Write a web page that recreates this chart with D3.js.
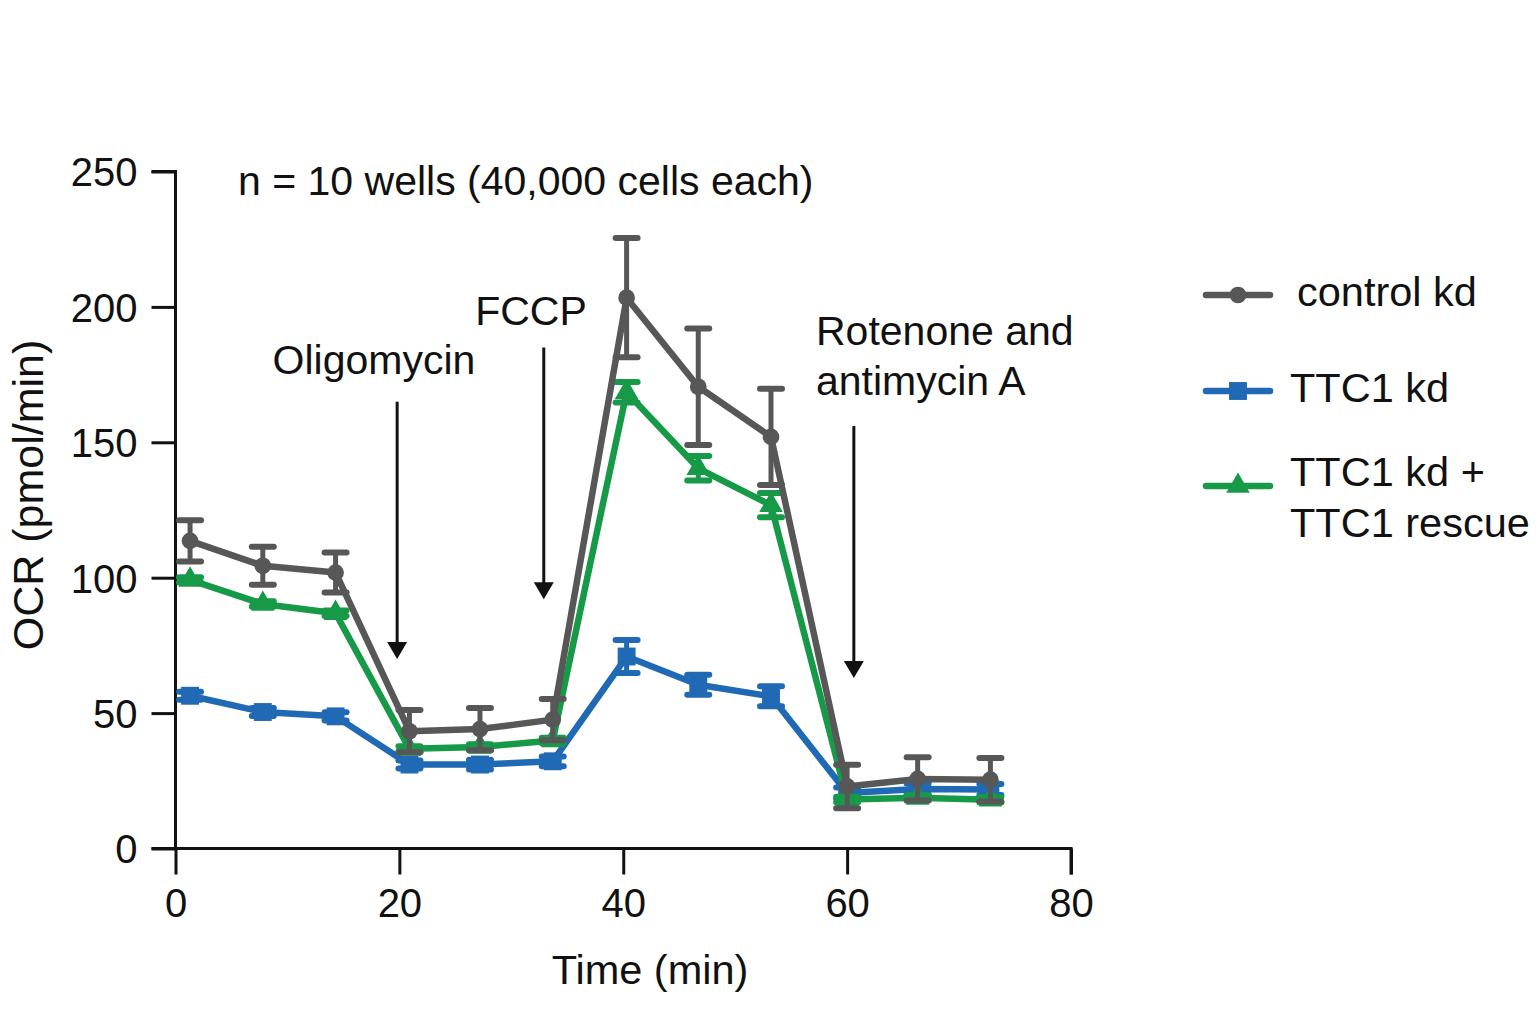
<!DOCTYPE html>
<html>
<head>
<meta charset="utf-8">
<script src="https://cdn.jsdelivr.net/npm/d3@7"></script>
<style>
  body { margin: 0; background: #fff; }
  svg text { font-family: "Liberation Sans", Arial, Helvetica, sans-serif; fill: #111; }
</style>
</head>
<body>
<svg id="chart" width="1538" height="1015"></svg>
<script>
// measurement times (min)
var times = [1.3, 7.8, 14.3, 20.9, 27.2, 33.7, 40.3, 46.7, 53.2, 60.0, 66.3, 72.8];

var controlKd  = [113.6, 104.4, 101.9, 43.3, 44.1, 47.6, 203.4, 170.5, 152.0, 22.9, 25.7, 25.4];
var controlErr = [7.6, 7.0, 7.4, 7.8, 7.8, 7.6, 22.0, 21.5, 17.8, 8.0, 8.0, 8.0];

var ttc1Kd  = [56.4, 50.4, 48.8, 31.0, 31.0, 32.2, 70.9, 60.5, 56.2, 20.5, 22.0, 21.8];
var ttc1Err = [1.5, 1.5, 1.5, 1.5, 1.8, 1.8, 6.1, 3.7, 3.7, 2.0, 2.0, 2.0];

var rescue    = [99.2, 90.3, 86.9, 36.8, 37.5, 39.9, 168.5, 140.4, 126.8, 18.1, 18.7, 18.0];
var rescueErr = [1.0, 1.0, 1.0, 1.0, 1.0, 1.0, 3.8, 4.5, 4.5, 1.0, 1.0, 1.0];

var xTicks = [0, 20, 40, 60, 80];
var yTicks = [0, 50, 100, 150, 200, 250];

var injections = [
  {name: ["Oligomycin"], t: 19.8, top: 165, bottom: 70},
  {name: ["FCCP"], t: 32.9, top: 185, bottom: 92},
  {name: ["Rotenone and", "antimycin A"], t: 60.6, top: 156, bottom: 63}
];

var series = [
  {name: "TTC1 kd", vals: ttc1Kd, err: ttc1Err, color: "#1f69b5", shape: "square"},
  {name: "TTC1 kd + TTC1 rescue", vals: rescue, err: rescueErr, color: "#179a48", shape: "triangle"},
  {name: "control kd", vals: controlKd, err: controlErr, color: "#575757", shape: "circle"}
];

var svg = d3.select("#chart");

var x = d3.scaleLinear().domain([0, 80]).range([175.5, 1071]);
var y = d3.scaleLinear().domain([0, 250]).range([848.5, 171.5]);

// axes
var xAxis = svg.append("g").attr("transform", "translate(0,848.5)")
  .call(d3.axisBottom(x).tickValues(xTicks).tickSize(26).tickPadding(12));
var yAxis = svg.append("g").attr("transform", "translate(175.5,0)")
  .call(d3.axisLeft(y).tickValues(yTicks).tickSize(24).tickPadding(14));

[xAxis, yAxis].forEach(function(a) {
  a.select(".domain").attr("stroke", "#111").attr("stroke-width", 3);
  a.selectAll(".tick line").attr("stroke", "#111").attr("stroke-width", 3);
  a.selectAll(".tick text").attr("font-size", 40).attr("fill", "#111");
});
// x axis extends left to meet 0 tick
xAxis.select(".domain").attr("d", "M151.5,0H1071V26");
yAxis.select(".domain").attr("d", "M-24,171.5H0V848.5");
xAxis.selectAll(".tick text").attr("dy", "0.75em");
yAxis.selectAll(".tick text").attr("dy", "0.36em");

svg.append("text").attr("x", 650).attr("y", 984).attr("text-anchor", "middle")
  .attr("font-size", 41.5).text("Time (min)");
svg.append("text").attr("transform", "translate(43,495) rotate(-90)")
  .attr("text-anchor", "middle").attr("font-size", 43).text("OCR (pmol/min)");

svg.append("text").attr("x", 238).attr("y", 195).attr("font-size", 41)
  .text("n = 10 wells (40,000 cells each)");

// injection arrows
var inj = svg.append("g");
injections.forEach(function(d) {
  var cx = x(d.t);
  var tip = y(d.bottom);
  inj.append("line").attr("x1", cx).attr("x2", cx)
    .attr("y1", y(d.top)).attr("y2", tip - 14)
    .attr("stroke", "#111").attr("stroke-width", 3);
  inj.append("path").attr("d", "M" + (cx - 10) + "," + (tip - 17) + "L" + (cx + 10) + "," + (tip - 17) + "L" + cx + "," + tip + "Z")
    .attr("fill", "#111");
});
svg.append("text").attr("x", 374).attr("y", 374).attr("text-anchor", "middle")
  .attr("font-size", 41).text(injections[0].name[0]);
svg.append("text").attr("x", 531).attr("y", 325).attr("text-anchor", "middle")
  .attr("font-size", 41).text(injections[1].name[0]);
svg.selectAll(".rot").data(injections[2].name).enter().append("text")
  .attr("x", 816).attr("y", function(d, i) { return 345 + i * 50; })
  .attr("font-size", 41).text(function(d) { return d; });

// series
var line = d3.line()
  .x(function(d, i) { return x(times[i]); })
  .y(function(d) { return y(d); });

var symbols = {
  circle: d3.symbol().type(d3.symbolCircle).size(220),
  square: d3.symbol().type(d3.symbolSquare).size(320),
  triangle: d3.symbol().type(d3.symbolTriangle).size(240)
};

series.forEach(function(s) {
  var g = svg.append("g");
  g.append("path").attr("d", line(s.vals)).attr("fill", "none")
    .attr("stroke", s.color).attr("stroke-width", 6.5).attr("stroke-linejoin", "round");
  var eb = g.selectAll(".eb").data(s.vals).enter().append("g");
  eb.append("line")
    .attr("x1", function(d, i) { return x(times[i]); })
    .attr("x2", function(d, i) { return x(times[i]); })
    .attr("y1", function(d, i) { return y(d + s.err[i]); })
    .attr("y2", function(d, i) { return y(d - s.err[i]); })
    .attr("stroke", s.color).attr("stroke-width", 5);
  [1, -1].forEach(function(sign) {
    eb.append("line")
      .attr("x1", function(d, i) { return x(times[i]) - 11; })
      .attr("x2", function(d, i) { return x(times[i]) + 11; })
      .attr("y1", function(d, i) { return y(d + sign * s.err[i]); })
      .attr("y2", function(d, i) { return y(d + sign * s.err[i]); })
      .attr("stroke", s.color).attr("stroke-width", 6).attr("stroke-linecap", "round");
  });
  g.selectAll(".mk").data(s.vals).enter().append("path")
    .attr("d", symbols[s.shape])
    .attr("transform", function(d, i) { return "translate(" + x(times[i]) + "," + y(d) + ")"; })
    .attr("fill", s.color);
});

// legend
var legend = [
  {s: series[2], y: 295, lines: ["control kd"], tx: 1297},
  {s: series[0], y: 391, lines: ["TTC1 kd"], tx: 1290},
  {s: series[1], y: 486, lines: ["TTC1 kd +", "TTC1 rescue"], tx: 1290}
];
legend.forEach(function(l) {
  var g = svg.append("g");
  g.append("line").attr("x1", 1206).attr("x2", 1270).attr("y1", l.y).attr("y2", l.y)
    .attr("stroke", l.s.color).attr("stroke-width", 6.5).attr("stroke-linecap", "round");
  g.append("path").attr("d", symbols[l.s.shape])
    .attr("transform", "translate(1238," + l.y + ")").attr("fill", l.s.color);
  var first = l.lines.length > 1 ? l.y : l.y + 11;
  l.lines.forEach(function(t, i) {
    g.append("text").attr("x", l.tx).attr("y", first + i * 51)
      .attr("font-size", 41.5).text(t);
  });
});
</script>
</body>
</html>
